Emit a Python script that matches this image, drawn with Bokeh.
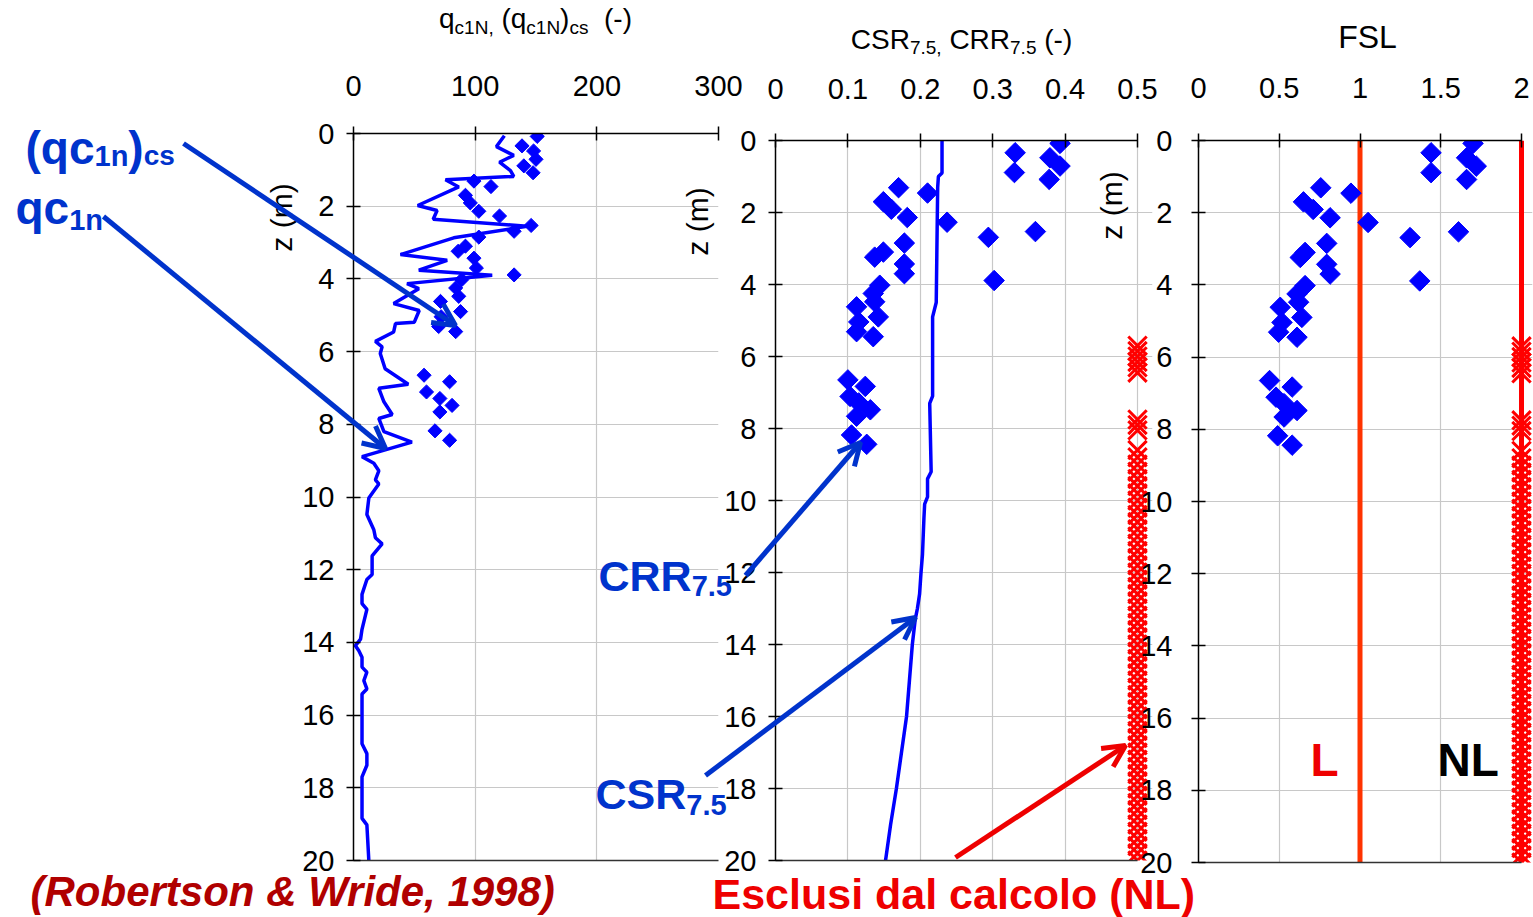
import numpy as np
from bokeh.plotting import figure
from bokeh.models import Range1d, LinearAxis, FixedTicker, Label, Arrow, OpenHead
from bokeh.embed import file_html
from bokeh.resources import INLINE

# ---------------- data ----------------
depth_pts = [0.08, 0.34, 0.48, 0.71, 0.89, 1.08, 1.31, 1.46, 1.70, 1.91, 2.14, 2.27,
             2.53, 2.69, 2.85, 3.10, 3.24, 3.43, 3.70, 3.89, 4.02, 4.25, 4.48, 4.62,
             4.90, 5.04, 5.31, 5.45, 6.65, 6.83, 7.11, 7.29, 7.48, 7.66, 8.18, 8.44]
qc1n_cs = [151, 138.5, 148, 150, 140, 147.6, 99, 113, 92, 96, 103, 120,
           146, 132, 103, 92, 86, 99, 101, 132, 89, 84, 86.5, 71.5,
           88, 72, 70, 84, 58, 79, 60, 71, 81, 71, 67, 79]
crr75 = [0.393, 0.331, 0.379, 0.393, 0.330, 0.378, 0.170, 0.210, 0.149, 0.160, 0.182, 0.237,
         0.359, 0.294, 0.178, 0.149, 0.137, 0.178, 0.178, 0.302, 0.144, 0.135, 0.137, 0.112,
         0.142, 0.115, 0.112, 0.135, 0.100, 0.124, 0.103, 0.115, 0.131, 0.112, 0.105, 0.126]
fsl = [1.70, 1.44, 1.66, 1.72, 1.44, 1.66, 0.757, 0.944, 0.65, 0.71, 0.815, 1.05,
       1.61, 1.31, 0.794, 0.66, 0.63, 0.794, 0.815, 1.37, 0.66, 0.61, 0.62, 0.506,
       0.64, 0.517, 0.496, 0.61, 0.44, 0.58, 0.48, 0.53, 0.61, 0.53, 0.49, 0.58]

qc1n_depth = [0.06, 0.36, 0.6, 0.79, 1.02, 1.18, 1.27, 1.47, 1.98, 2.12, 2.36, 2.55, 2.87,
              3.33, 3.49, 3.76, 3.9, 4.13, 4.27, 4.68, 4.87, 5.19, 5.23, 5.46, 5.72, 5.87,
              6.05, 6.47, 6.9, 7.01, 7.38, 7.73, 7.84, 8.2, 8.49, 8.89, 9.07, 9.28, 9.53,
              9.64, 10.03, 10.48, 10.9, 11.12, 11.29, 11.62, 12.13, 12.27, 12.68, 12.93,
              13.09, 13.64, 13.91, 14.09, 14.23, 14.41, 14.68, 14.82, 15.05, 15.28, 15.42,
              16.05, 16.79, 17.06, 17.38, 17.7, 18.84, 19.02, 20.0]
qc1n_val = [124, 117.5, 131.7, 120, 129, 131.7, 75.6, 86.5, 52.8, 68.7, 65.5, 142.7, 82.4,
            38.6, 77, 53.7, 114, 44, 53.7, 33, 54, 50, 34.5, 33, 18, 23.5,
            22, 26, 45, 20.8, 25, 31.8, 20.8, 25, 48, 7, 16.7, 20.8, 18,
            20.8, 12.6, 11, 16.7, 18, 23.5, 15.3, 15.3, 11, 7, 7,
            11, 7, 5.8, 1.6, 4.4, 7, 7, 11, 8.5, 11, 7,
            7, 7, 11, 11, 7, 7, 11, 12.6]

csr_depth = [0.0, 0.9, 1.0, 1.3, 4.5, 4.9, 7.1, 7.3, 9.2, 9.4, 9.9, 10.1, 10.5, 11.5,
             12.0, 12.6, 13.0, 13.3, 14.0, 15.0, 16.0, 17.0, 18.0, 19.0, 20.0]
csr75 = [0.230, 0.230, 0.225, 0.224, 0.222, 0.217, 0.217, 0.213, 0.215, 0.210, 0.210, 0.206,
         0.205, 0.203, 0.201, 0.199, 0.196, 0.193, 0.189, 0.185, 0.181, 0.174, 0.167, 0.159, 0.152]

# depths excluded from the calculation (NL)
nl_depth = [5.7, 5.85, 6.0, 6.15, 6.3, 6.45, 7.75, 7.9, 8.05,
            8.6, 8.8, 9.0, 9.2, 9.4, 9.6, 9.8, 10.0, 10.2, 10.4, 10.6, 10.8, 11.0, 11.2,
            11.4, 11.6, 11.8, 12.0, 12.2, 12.4, 12.6, 12.8, 13.0, 13.2, 13.4, 13.6, 13.8,
            14.0, 14.2, 14.4, 14.6, 14.8, 15.0, 15.2, 15.4, 15.6, 15.8, 16.0, 16.2, 16.4,
            16.6, 16.8, 17.0, 17.2, 17.4, 17.6, 17.8, 18.0, 18.2, 18.4, 18.6, 18.8, 19.0,
            19.2, 19.4, 19.6, 19.8, 20.0]
NL_CRR = 0.5
NL_FSL = 2.0
lim_depth = [0, 20]
lim_L = [1, 1]
lim_NL = [2, 2]

x1_ticks = [0, 100, 200, 300]
x2_ticks = [0, 0.1, 0.2, 0.3, 0.4, 0.5]
x2_labels = ["0", "0.1", "0.2", "0.3", "0.4", "0.5"]
x3_ticks = [0, 0.5, 1, 1.5, 2]
x3_labels = ["0", "0.5", "1", "1.5", "2"]
z_ticks = [0, 2, 4, 6, 8, 10, 12, 14, 16, 18, 20]

# ---------------- styling ----------------
W, H = 1533, 917
FONT = "Liberation Sans"
BLUE = "#0000FF"
ABLUE = "#0033CC"
RED = "#FF0000"
GRID = "#C8C8C8"
ABS = {"position": "absolute", "left": "0px", "top": "0px"}
TXT_DY = -13  # baseline correction for overlay texts

W_REG = {'0': .556, '1': .556, '2': .556, '3': .556, '4': .556, '5': .556, '6': .556,
         '7': .556, '8': .556, '9': .556, '.': .278, ',': .278, ' ': .278, '(': .333,
         ')': .333, '-': .333, 'q': .556, 'c': .5, 'N': .722, 's': .5, 'C': .722,
         'S': .667, 'R': .722, 'F': .611, 'L': .556, 'n': .556}
W_BOLD = {'.': .278, ',': .278, ' ': .278, '(': .333, ')': .333, 'q': .611, 'c': .556,
          'n': .611, 's': .556, 'C': .722, 'S': .667, 'R': .722, 'L': .611, 'N': .722}


def tw(s, size, bold=False):
    t = W_BOLD if bold else W_REG
    return sum(t.get(ch, .556) for ch in s) * size


def panel(xr, xmax, xticks, frame, x_std, y_std, white=False, labels=None):
    left, right_ext, top, bottom = frame
    p = figure(width=W, height=H, x_range=xr, y_range=Range1d(20, 0),
               x_axis_location="above", output_backend="svg", toolbar_location=None,
               tools="", title=None,
               min_border_left=left, min_border_right=W - right_ext,
               min_border_top=top, min_border_bottom=H - bottom)
    p.styles = ABS
    p.outline_line_color = None
    if white:
        p.background_fill_color = "white"
        p.border_fill_color = "white"
    else:
        p.background_fill_alpha = 0
        p.border_fill_alpha = 0
    ax = p.xaxis[0]
    ax.ticker = FixedTicker(ticks=xticks)
    ax.bounds = (0, xmax)
    if labels:
        ax.major_label_overrides = {t: l for t, l in zip(xticks, labels)}
    ay = p.yaxis[0]
    ay.ticker = FixedTicker(ticks=z_ticks)
    for a, std in ((ax, x_std), (ay, y_std)):
        a.major_label_text_font = FONT
        a.major_label_text_font_size = "29px"
        a.major_label_text_color = "black"
        a.major_label_standoff = std
        a.major_tick_in = 7
        a.major_tick_out = 7
        a.major_tick_line_color = "black"
        a.major_tick_line_width = 1.5
        a.minor_tick_line_color = None
        a.axis_line_color = "black"
        a.axis_line_width = 1.5
    bot = LinearAxis(ticker=FixedTicker(ticks=[]), bounds=(0, xmax),
                     axis_line_color="#333333", axis_line_width=1.5,
                     minor_tick_line_color=None, major_tick_line_color=None)
    p.add_layout(bot, "below")
    p.xgrid.grid_line_color = GRID
    p.ygrid.grid_line_color = GRID
    p.xgrid.grid_line_width = 1.2
    p.ygrid.grid_line_width = 1.2
    return p


# frame geometry: left px, right px (extended), top px, bottom px
p1 = panel(Range1d(0, 300), 300, x1_ticks, (353, 718, 133, 860), 31, 12, white=True)
p2_end = 0.5 * (1152 - 775) / (1137 - 775)
p2 = panel(Range1d(0, p2_end), 0.5, x2_ticks, (775, 1152, 140, 860), 35, 12, labels=x2_labels)
p3_end = 2.0 * (1532 - 1198) / (1521 - 1198)
p3 = panel(Range1d(0, p3_end), 2.0, x3_ticks, (1198, 1532, 140, 862), 36, 19, labels=x3_labels)

p1.line(qc1n_val, qc1n_depth, line_color=BLUE, line_width=3.5)
p1.scatter(qc1n_cs, depth_pts, marker="square", angle=np.pi / 4, size=10, color=BLUE)

p2.line(csr75, csr_depth, line_color=BLUE, line_width=3.5)
p2.scatter(crr75, depth_pts, marker="square", angle=np.pi / 4, size=14.5, color=BLUE)
p2.scatter([NL_CRR] * len(nl_depth), nl_depth, marker="x", size=26,
           line_color=RED, line_width=3)

p3.line(lim_L, lim_depth, line_color="#FF3300", line_width=5)
p3.line(lim_NL, lim_depth, line_color=RED, line_width=5)
p3.scatter(fsl, depth_pts, marker="square", angle=np.pi / 4, size=14.5, color=BLUE)
p3.scatter([NL_FSL] * len(nl_depth), nl_depth, marker="x", size=26,
           line_color=RED, line_width=3)

# ---------------- overlay for texts and arrows (pixel coordinates) ----------------
ov = figure(width=W, height=H, x_range=Range1d(0, W), y_range=Range1d(H, 0),
            x_axis_location=None, y_axis_location=None, output_backend="svg",
            toolbar_location=None, tools="", title=None, min_border=0)
ov.styles = ABS
ov.grid.visible = False
ov.outline_line_color = None
ov.background_fill_alpha = 0
ov.border_fill_alpha = 0


def chain(x, y, pieces, color="black", style="normal", center=False):
    bold = "bold" in style
    if center:
        x -= sum(tw(t, s, bold) for t, s, _ in pieces) / 2
    for t, s, dy in pieces:
        lead = t[:len(t) - len(t.lstrip(" "))]
        x += tw(lead, s, bold)
        body = t.lstrip(" ")
        ov.add_layout(Label(x=x, y=y + dy + TXT_DY, text=body, text_font=FONT,
                            text_font_size=f"{s}px", text_font_style=style, text_color=color,
                            text_align="left", text_baseline="alphabetic"))
        x += tw(body, s, bold)


# panel titles
chain(535, 31, [("q", 28, 0), ("c1N,", 19, 9), (" (q", 28, 0), ("c1N", 19, 9),
                (")", 28, 0), ("cs", 19, 9), ("  (-)", 28, 0)], center=True)
chain(961, 52, [("CSR", 28, 0), ("7.5,", 19, 8), (" CRR", 28, 0), ("7.5", 19, 8),
                (" (-)", 28, 0)], center=True)
chain(1367, 49, [("FSL", 32, 0)], center=True)

for cx, cy in ((281, 217), (697, 221), (1111, 205)):
    ov.add_layout(Label(x=cx, y=cy, text="z (m)", angle=90, angle_units="deg",
                        text_font=FONT, text_font_size="30px", text_color="black",
                        text_align="center", text_baseline="middle"))

# annotations
chain(25, 160, [("(qc", 46, 0), ("1n", 29, 8), (")", 46, 0), ("cs", 28, 8)], ABLUE, "bold")
chain(15, 220, [("qc", 46, 0), ("1n", 29, 12)], ABLUE, "bold")
chain(598, 588, [("CRR", 43, 0), ("7.5", 29, 10)], ABLUE, "bold")
chain(595, 806, [("CSR", 43, 0), ("7.5", 29, 11)], ABLUE, "bold")
chain(1310, 772, [("L", 46, 0)], "#EE0000", "bold")
chain(1437, 772, [("NL", 46, 0)], "black", "bold")
chain(30, 904, [("(Robertson & Wride, 1998)", 42, 0)], "#B00000", "bold italic")
chain(712, 906, [("Esclusi dal calcolo (NL)", 43, 0)], "#EE0000", "bold")

for (xs, ys, xe, ye, c) in ((183, 143, 455, 325, ABLUE), (103, 216, 385, 448, ABLUE),
                            (745, 575, 860, 442, ABLUE), (705, 775, 915, 617, ABLUE),
                            (955, 857, 1125, 745, "#EE0000")):
    ov.add_layout(Arrow(end=OpenHead(line_color=c, line_width=5, size=22),
                        x_start=xs, y_start=ys, x_end=xe, y_end=ye,
                        line_color=c, line_width=5))

open("out.html", "w").write(file_html([p1, p2, p3, ov], INLINE))
